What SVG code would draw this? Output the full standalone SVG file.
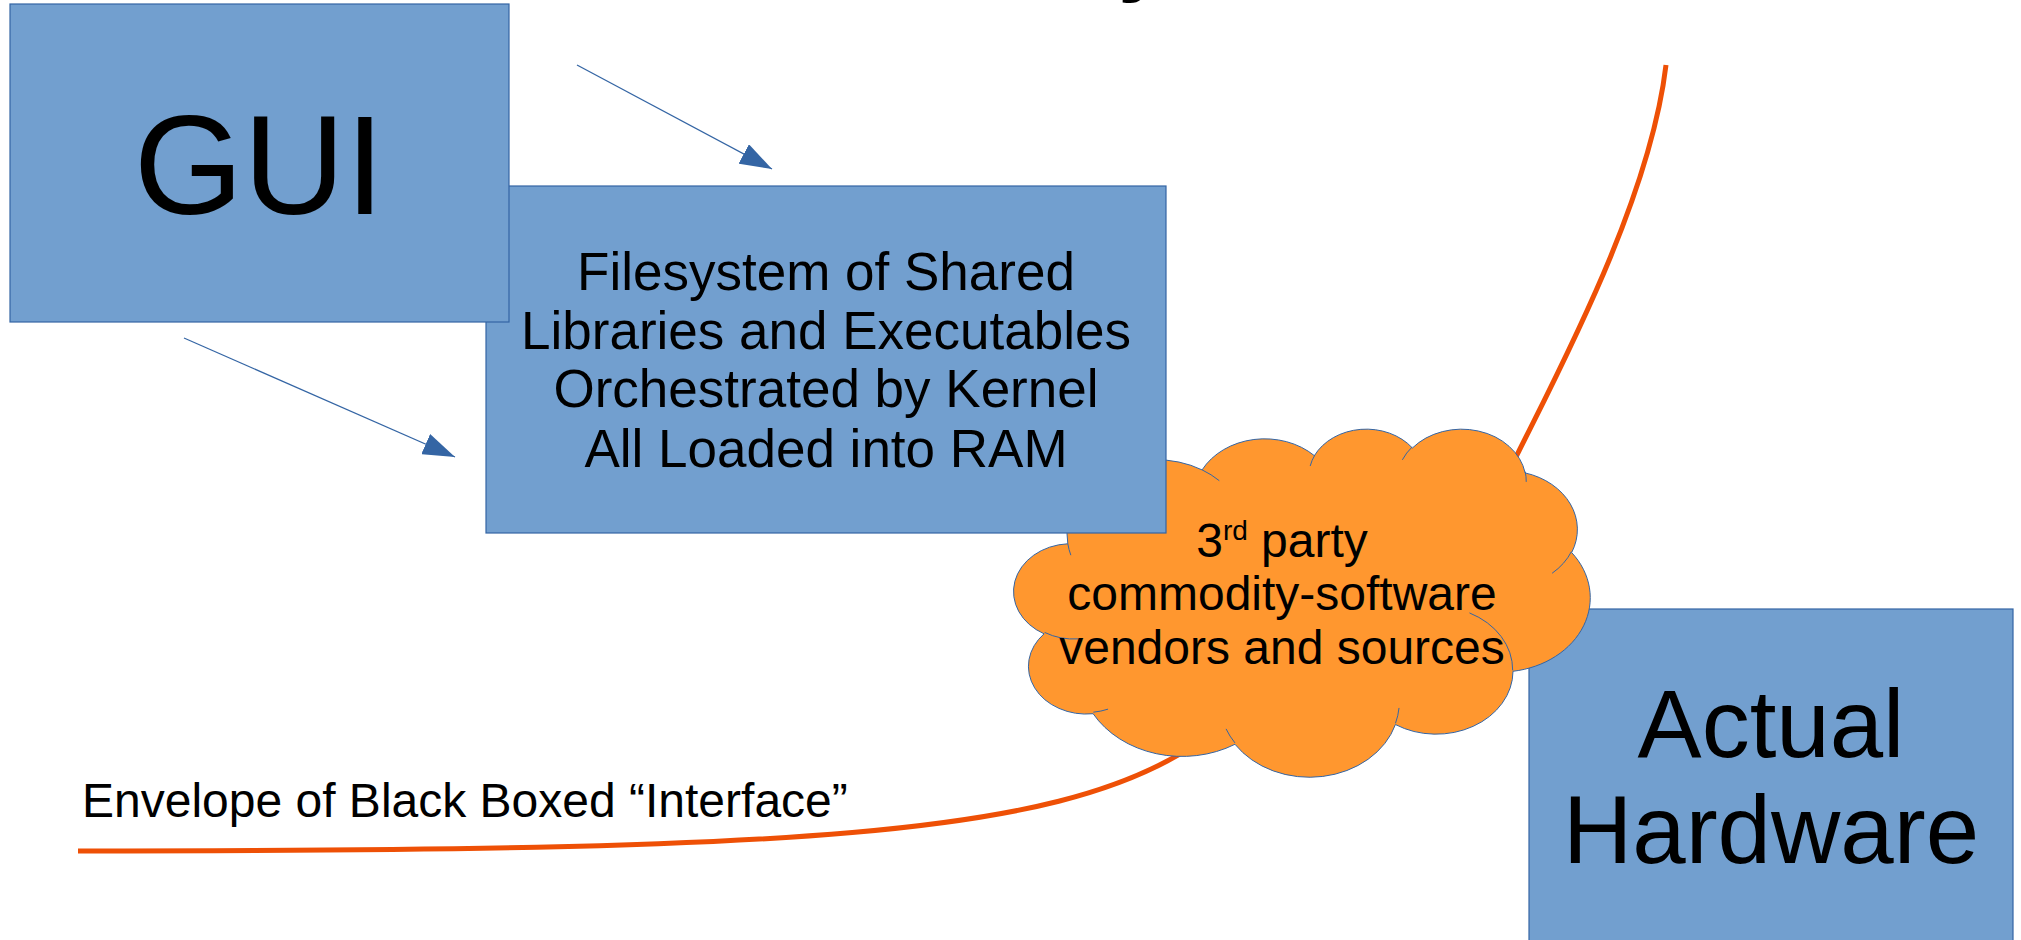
<svg xmlns="http://www.w3.org/2000/svg" width="2021" height="940" viewBox="0 0 2021 940">
<style>
.box{fill:#729fcf;stroke:#3465a4;stroke-width:1.2}
.txt{font-family:"Liberation Sans",Arial,sans-serif;fill:#000;text-anchor:middle}
.cloud{fill:#ff972f;stroke:#3465a4;stroke-width:1}
.cloudline{fill:none;stroke:#3465a4;stroke-width:1}
.arrow{stroke:#3465a4;stroke-width:1.2;fill:none}
.envelope{fill:none;stroke:#ee5006;stroke-width:5;stroke-linecap:butt}
</style>
<defs>
<marker id="ah" viewBox="0 0 32 22" refX="32" refY="11" markerWidth="32" markerHeight="22" markerUnits="userSpaceOnUse" orient="auto">
<path d="M0,0 L32,11 L0,22 Z" fill="#3465a4"/>
</marker>
</defs>
<rect width="2021" height="940" fill="#ffffff"/>
<text x="1118" y="-16" font-family="Liberation Sans, Arial, sans-serif" font-weight="bold" font-size="90">y</text>
<g id="connectors">
<path class="envelope" d="M78,851 C800,851 1050,836 1190,748 C1300,680 1470,550 1517,455 C1560,368 1650,200 1666,65"/>
<line class="arrow" x1="577" y1="65" x2="772" y2="169" marker-end="url(#ah)"/>
<line class="arrow" x1="184" y1="338" x2="455" y2="457" marker-end="url(#ah)"/>
</g>
<g id="hardware">
<rect class="box" x="1529" y="609" width="484" height="345"/>
<text class="txt" x="1771" y="757" font-size="96">Actual</text>
<text class="txt" x="1771" y="863" font-size="96">Hardware</text>
</g>
<g id="cloud">
<g transform="translate(1016,428) scale(0.013287,0.0080556)">
<path class="cloud" vector-effect="non-scaling-stroke" d="M3900,14370 A6753,9190 0 0 1 14005,5202 A5333,7267 0 0 1 22457,3432 A4365,5945 0 0 1 29834,2481 A4857,6595 0 0 1 38320,5577 A5333,7273 0 0 1 41820,15460 A6775,9220 0 0 1 37405,30201 A5785,7867 0 0 1 28556,36811 A6752,9215 0 0 1 16481,39263 A7720,10543 0 0 1 5804,35468 A4360,5918 0 0 1 2111,25548 A4345,5945 0 0 1 3900,14370 Z"/>
<path class="cloudline" vector-effect="non-scaling-stroke" d="M4693,26177 A4345,5945 0 0 1 2159,25380 M6928,34899 A4360,5918 0 0 1 5820,35280 M16478,39090 A6752,9215 0 0 1 15810,37350 M28827,34751 A6752,9215 0 0 1 28560,36660 M34129,22954 A5785,7867 0 0 1 37381,30090 M41798,15354 A5333,7273 0 0 1 40349,18031 M38324,5426 A4857,6595 0 0 1 38400,6689 M29078,3952 A4857,6595 0 0 1 29820,2340 M22141,4720 A4365,5945 0 0 1 22500,3330 M14000,5192 A6753,9190 0 0 1 15301,6542 M4127,15789 A6753,9190 0 0 1 3900,14371"/>
</g>
<text class="txt" x="1282" y="557" font-size="48">3<tspan font-size="28" dy="-17">rd</tspan><tspan dy="17"> party</tspan></text>
<text class="txt" x="1282" y="610" font-size="48">commodity-software</text>
<text class="txt" x="1282" y="664" font-size="48">vendors and sources</text>
</g>
<g id="filesystem">
<rect class="box" x="486" y="186" width="680" height="347"/>
<text class="txt" x="826" y="290" font-size="53">Filesystem of Shared</text>
<text class="txt" x="826" y="349" font-size="53">Libraries and Executables</text>
<text class="txt" x="826" y="407" font-size="53">Orchestrated by Kernel</text>
<text class="txt" x="826" y="467" font-size="53">All Loaded into RAM</text>
</g>
<g id="gui">
<rect class="box" x="10" y="4" width="499" height="318"/>
<text class="txt" x="259" y="214" font-size="141">GUI</text>
</g>
<g id="label">
<text x="82" y="817" font-family="Liberation Sans, Arial, sans-serif" font-size="48">Envelope of Black Boxed “Interface”</text>
</g>
</svg>
